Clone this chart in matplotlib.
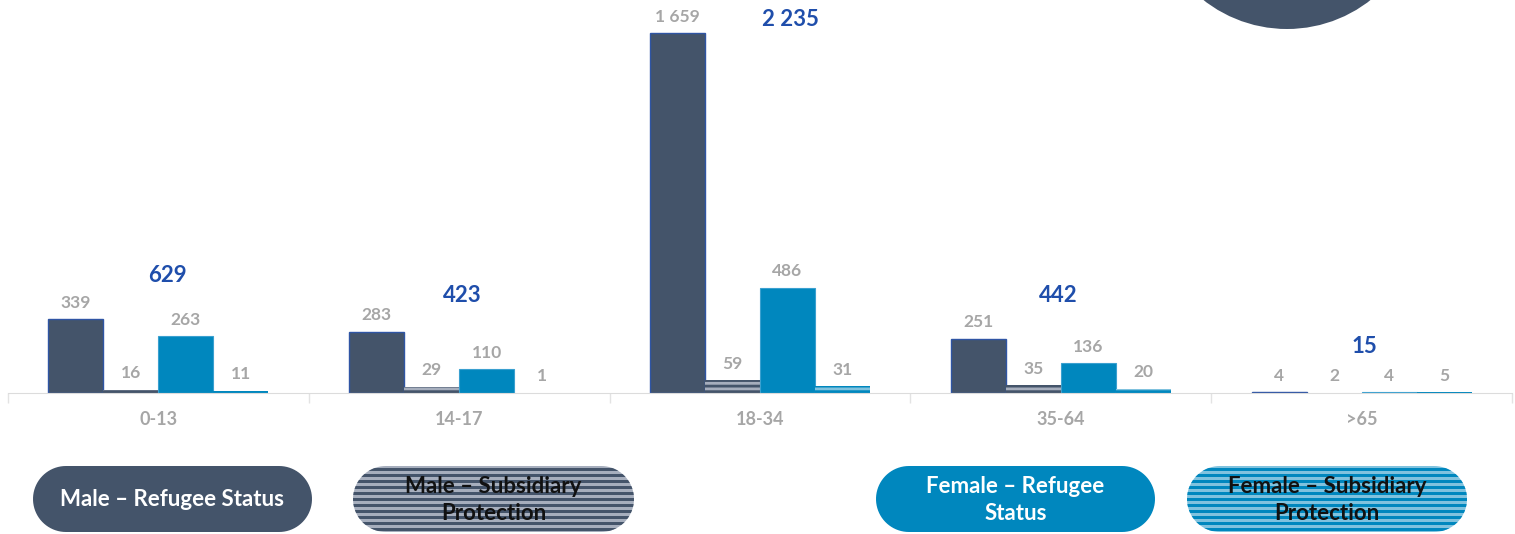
import matplotlib
matplotlib.use("Agg")
import matplotlib.pyplot as plt
import numpy as np
from matplotlib.patches import PathPatch, Rectangle, Circle
from matplotlib.path import Path

plt.rcParams["font.family"] = ["Lato", "DejaVu Sans"]
plt.rcParams["hatch.linewidth"] = 2.0

# age groups and recognised persons by sex / protection type
age_groups = ["0-13", "14-17", "18-34", "35-64", ">65"]
male_refugee = [339, 283, 1659, 251, 4]
male_subsidiary = [16, 29, 59, 35, 2]
female_refugee = [263, 110, 486, 136, 4]
female_subsidiary = [11, 1, 31, 20, 5]

# heights (data units) and x shifts for the group total labels
total_label_y = [540, 447, 1719, 447, 212]
total_label_dx = [0.03, 0.01, 0.10, -0.01, 0.01]

NAVY = "#44546a"
NAVY_LIGHT = "#a6aebd"
BLUE = "#0087be"
BLUE_LIGHT = "#80c2de"
GREY_TXT = "#a6a6a6"
TOTAL_TXT = "#1f4eab"


def pill_path(x0, x1, y0, y1, n=40):
    # stadium shape: straight top/bottom, half circles at both ends
    r = (y1 - y0) / 2
    cy = (y0 + y1) / 2
    t = np.linspace(-np.pi / 2, np.pi / 2, n)
    right = np.column_stack([x1 - r + r * np.cos(t), cy + r * np.sin(t)])
    left = np.column_stack([x0 + r - r * np.cos(t), cy - r * np.sin(t)])
    pts = np.vstack([right, left, right[:1]])
    codes = [Path.MOVETO] + [Path.LINETO] * (len(pts) - 2) + [Path.CLOSEPOLY]
    return Path(pts, codes)


fig = plt.figure(figsize=(15.15, 5.34), dpi=100)
ax = fig.add_axes([8 / 1515, 1 - 393 / 534, 1504 / 1515, 393 / 534])

x = np.arange(len(age_groups))
w = 0.183
series = [
    (male_refugee, dict(color=NAVY, edgecolor="#2f55a4", linewidth=1.0)),
    (male_subsidiary, dict(color=NAVY_LIGHT, edgecolor=NAVY, hatch="---", linewidth=0)),
    (female_refugee, dict(color=BLUE, edgecolor="#3aa0d0", linewidth=0.8)),
    (female_subsidiary, dict(color=BLUE_LIGHT, edgecolor=BLUE, hatch="---", linewidth=0)),
]
for i, (vals, style) in enumerate(series):
    pos = x + (i - 1.5) * w
    ax.bar(pos, vals, width=w, **style)
    for p, v in zip(pos, vals):
        lbl = f"{v:,}".replace(",", " ")
        ax.annotate(lbl, (p, v), xytext=(0, 6), textcoords="offset points",
                    ha="center", va="bottom", color=GREY_TXT,
                    fontsize=12.5, fontweight="bold")

totals = [sum(t) for t in zip(male_refugee, male_subsidiary, female_refugee, female_subsidiary)]
for xi, tot, ty, dx in zip(x, totals, total_label_y, total_label_dx):
    ax.text(xi + dx, ty, f"{tot:,}".replace(",", " "), ha="center", va="center",
            color=TOTAL_TXT, fontsize=16, fontweight="bold")

ax.set_xlim(-0.5, len(age_groups) - 0.5)
ax.set_ylim(0, 1811)
ax.set_yticks([])
ax.set_xticks(x)
ax.set_xticklabels(age_groups, color=GREY_TXT, fontsize=13, fontweight="bold")
ax.tick_params(axis="x", length=0, pad=13)
ax.set_xticks(np.arange(-0.5, len(age_groups)), minor=True)
ax.tick_params(axis="x", which="minor", length=7, color="#e3e3e3", width=1)
for s in ["top", "right", "left"]:
    ax.spines[s].set_visible(False)
ax.spines["bottom"].set_color("#dcdcdc")
ax.set_facecolor("none")

# overlay in pixel units for the legend pills and the decorative circle
pax = fig.add_axes([0, 0, 1, 1])
pax.set_xlim(0, 1515)
pax.set_ylim(534, 0)
pax.axis("off")

pax.add_patch(Circle((1287, -106), 135, facecolor=NAVY, edgecolor="none"))

pills = [
    (33, 312, "Male – Refugee Status", NAVY, None, "white"),
    (353, 634, "Male – Subsidiary\nProtection", NAVY_LIGHT, NAVY, "#111111"),
    (876, 1155, "Female – Refugee\nStatus", BLUE, None, "white"),
    (1187, 1467, "Female – Subsidiary\nProtection", BLUE_LIGHT, BLUE, "#111111"),
]
top, bot = 466, 532
for x0, x1, label, fc, stripe, tc in pills:
    pill = PathPatch(pill_path(x0, x1, top, bot), facecolor=fc, edgecolor="none")
    pax.add_patch(pill)
    if stripe:
        for yy in np.arange(top + 1.5, bot, 6.0):
            r = Rectangle((x0, yy), x1 - x0, 3, facecolor=stripe, edgecolor="none")
            pax.add_patch(r)
            r.set_clip_path(pill)
    pax.text((x0 + x1) / 2, (top + bot) / 2 + 1, label, ha="center", va="center",
             color=tc, fontsize=16, fontweight="bold", linespacing=1.35)

fig.savefig("out.png", dpi=100)
